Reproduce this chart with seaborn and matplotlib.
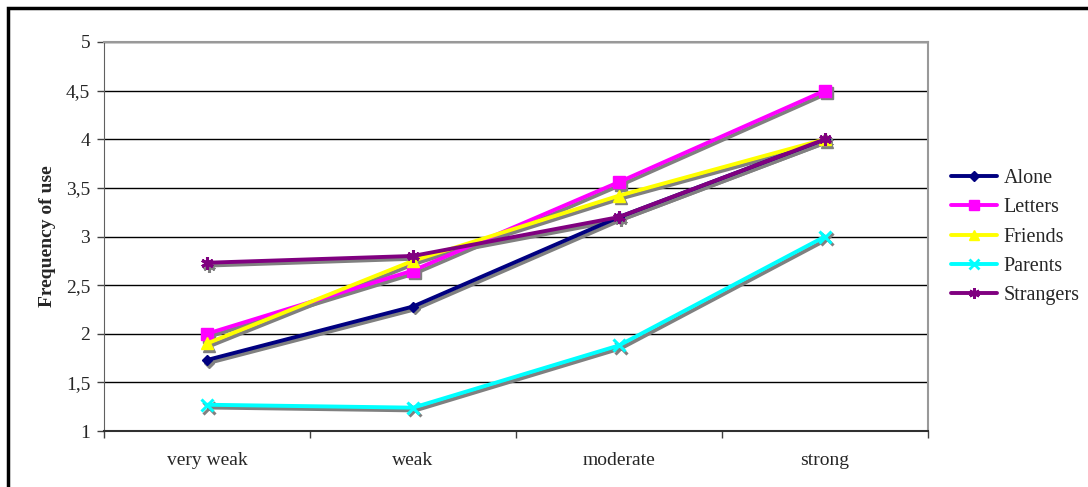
import matplotlib
matplotlib.use("Agg")
import matplotlib.pyplot as plt
from matplotlib.transforms import ScaledTranslation
from matplotlib.ticker import FuncFormatter, FixedLocator
from matplotlib.patches import Rectangle
import seaborn as sns
import pandas as pd

# Strength categories and mean frequency of use per context
categories = ["very weak", "weak", "moderate", "strong"]
alone = [1.73, 2.28, 3.20, 4.00]
letters = [2.00, 2.65, 3.56, 4.50]
friends = [1.90, 2.75, 3.42, 4.00]
parents = [1.27, 1.24, 1.88, 3.00]
strangers = [2.73, 2.80, 3.20, 4.00]

series = {
    "Alone": alone,
    "Letters": letters,
    "Friends": friends,
    "Parents": parents,
    "Strangers": strangers,
}
colors = {
    "Alone": "#000080",
    "Letters": "#FF00FF",
    "Friends": "#FFFF00",
    "Parents": "#00FFFF",
    "Strangers": "#800080",
}
markers = {
    "Alone": "D",
    "Letters": "s",
    "Friends": "^",
    "Parents": "x",
    "Strangers": (6, 2, 0),
}
marker_sizes = {"Alone": 5.5, "Letters": 8.5, "Friends": 8, "Parents": 8.5, "Strangers": 9}
line_art = ("Parents", "Strangers")
LW = 2.8
SHADOW = "#808080"

sns.set_style("white")
plt.rcParams["font.family"] = ["Liberation Serif", "DejaVu Serif"]

fig = plt.figure(figsize=(10.88, 4.87), dpi=100)
ax = fig.add_axes([104 / 1088, 1 - 431 / 487, (928 - 104) / 1088, (431 - 42) / 487])

# Drop shadow: the same series drawn in grey, shifted right and down
shift = ax.transData + ScaledTranslation(1.6 / 72, -2.0 / 72, fig.dpi_scale_trans)

for name, vals in series.items():
    df = pd.DataFrame({"strength": categories, "value": vals})
    sns.lineplot(
        data=df, x="strength", y="value", color=SHADOW, marker=markers[name],
        markersize=marker_sizes[name], markeredgecolor=SHADOW, markerfacecolor=SHADOW,
        markeredgewidth=2.2 if name in line_art else 1,
        linewidth=LW, sort=False, ax=ax, legend=False, transform=shift, zorder=2,
    )
for name, vals in series.items():
    df = pd.DataFrame({"strength": categories, "value": vals})
    sns.lineplot(
        data=df, x="strength", y="value", color=colors[name], marker=markers[name],
        markersize=marker_sizes[name], markeredgecolor=colors[name],
        markerfacecolor=colors[name],
        markeredgewidth=2.2 if name in line_art else 1,
        linewidth=LW, sort=False, ax=ax, legend=False, zorder=3,
    )

# Axes limits, ticks and gridlines
ax.set_xlim(-0.5, len(categories) - 0.5)
ax.set_ylim(1, 5)
ax.set_yticks([1, 1.5, 2, 2.5, 3, 3.5, 4, 4.5, 5])
ax.yaxis.set_major_formatter(FuncFormatter(lambda v, p: f"{v:g}".replace(".", ",")))
ax.yaxis.grid(True, color="black", linewidth=1, zorder=0)
ax.set_axisbelow(True)
ax.xaxis.grid(False)
ax.set_xticks(range(len(categories)))
ax.set_xticklabels(categories)
ax.xaxis.set_minor_locator(FixedLocator([i - 0.5 for i in range(len(categories) + 1)]))
ax.tick_params(axis="x", which="major", length=0, pad=15, labelsize=14)
ax.tick_params(axis="x", which="minor", length=5, width=1, color="#404040", direction="out", bottom=True)
ax.tick_params(axis="y", length=5, width=1, color="#404040", direction="out", left=True, labelsize=14, pad=5)
ax.set_xlabel("")
ax.set_ylabel("Frequency of use", fontsize=14, fontweight="bold", labelpad=7)

for side in ("top", "right"):
    ax.spines[side].set_color("#999999")
    ax.spines[side].set_linewidth(1.5)
ax.spines["left"].set_color("#606060")
ax.spines["bottom"].set_color("#303030")
ax.spines["bottom"].set_linewidth(1.5)

# Legend with long line handles, no frame
handles = [
    plt.Line2D([], [], color=colors[n], linewidth=LW, marker=markers[n],
               markersize=marker_sizes[n] * 0.85, markeredgecolor=colors[n],
               markerfacecolor=colors[n],
               markeredgewidth=2 if n in line_art else 1)
    for n in series
]
leg = fig.legend(
    handles, list(series.keys()), loc="center left",
    bbox_to_anchor=(951 / 1088, 1 - 237 / 487), frameon=False, fontsize=14.5,
    handlelength=2.3, labelspacing=0.5, borderpad=0, borderaxespad=0,
    handletextpad=0.3,
)

# Outer chart border
fig.patches.append(Rectangle((8 / 1088, -0.1), 1.2, 1 - 8 / 487 + 0.1,
                             transform=fig.transFigure, fill=False,
                             edgecolor="black", linewidth=2.5))

fig.savefig("out.png", dpi=100)
